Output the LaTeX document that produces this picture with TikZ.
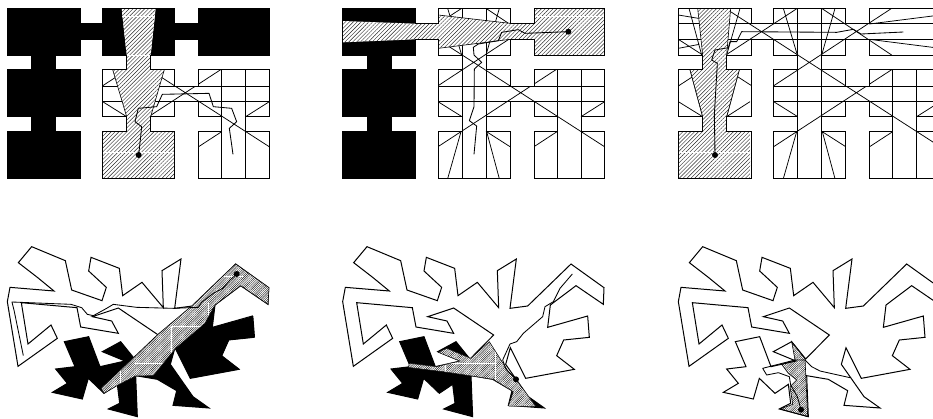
\documentclass[tikz,border=0pt]{standalone}
\usetikzlibrary{patterns.meta}
\tikzset{
  raw/.style={x=0.33333pt,y=-0.33333pt},
  wall/.style={line width=1pt,line join=miter,draw=black},
  inner/.style={line width=0.75pt,draw=black},
  track/.style={line width=0.85pt,line join=round,draw=black},
  dotmark/.style={fill=black,draw=none},
  solid black/.style={fill=black,draw=none},
  hatchT/.style={pattern={Lines[angle=45,distance=2.75pt,line width=0.42pt]},pattern color=black!85},
  hatchB/.style={pattern={Lines[angle=45,distance=1.55pt,line width=0.42pt]},pattern color=black!90},
  hatchedge/.style={line width=0.6pt,draw=black},
  seam/.style={line width=0.4pt,draw=white}
}
% ---------- top maze (raw = 3x pixel coordinates, panel-relative)
\def\mazeOutline{(22,25)--(240,25)--(240,70)--(308,70)--(308,25)--(524,25)--(524,70)--(596,70)--(596,25)--(808,25)--(808,165)--(596,165)--(596,118)--(524,118)--(524,165)--(452,165)--(452,209)--(524,209)--(524,258)--(596,258)--(596,209)--(808,209)--(808,350)--(737,350)--(737,394)--(808,394)--(808,536)--(596,536)--(596,394)--(665,394)--(665,350)--(596,350)--(596,305)--(524,305)--(524,350)--(452,350)--(452,394)--(524,394)--(524,536)--(308,536)--(308,394)--(380,394)--(380,350)--(308,350)--(308,209)--(380,209)--(380,165)--(308,165)--(308,118)--(240,118)--(240,165)--(167,165)--(167,209)--(240,209)--(240,350)--(167,350)--(167,394)--(240,394)--(240,536)--(22,536)--(22,394)--(95,394)--(95,350)--(22,350)--(22,209)--(95,209)--(95,165)--(22,165)--cycle}
\newcommand{\mazeLines}{%
  \begin{scope}
    \clip \mazeOutline;
    \draw[inner] (22,70)--(808,70) (22,118)--(808,118) (308,258)--(808,258) (308,305)--(808,305);
    \draw[inner] (380,25)--(380,536) (452,25)--(452,536) (665,209)--(665,536) (737,209)--(737,536);
    \draw[inner] (163,25)--(809,441) (662,209)--(308,440) (307,258)--(662,25) (379,25)--(22,258)
      (22,118)--(95,165) (167,209)--(240,256) (308,305)--(380,350) (452,394)--(524,440)
      (808,305)--(737,350) (665,395)--(596,440) (452,25)--(662,165) (22,305)--(95,350) (237,305)--(167,350);
    \draw[inner] (57,209)--(95,350) (205,209)--(167,350) (54,25)--(92,165) (207,25)--(167,165)
      (337,25)--(379,165) (492,25)--(452,165) (377,395)--(337,536) (454,395)--(492,536)
      (595,72)--(808,45) (595,118)--(808,145) (22,45)--(82,55) (22,145)--(85,133);
  \end{scope}}
% ---------- lower polygon (raw coordinates read on the third panel)
\def\bigOutline{(128,65)--(229,107)--(248,195)--(339,227)--(352,187)--(299,138)--(306,97)--(391,130)--(401,212)--(459,172)--(523,248)--(519,137)--(576,102)--(557,250)--(610,243)--(740,117)--(839,188)--(837,238)--(755,182)--(678,240)--(670,307)--(790,273)--(795,337)--(718,345)--(697,392)--(750,433)--(604,460)--(558,368)--(544,418)--(612,515)--(660,549)--(552,541)--(563,497)--(505,463)--(440,452)--(445,575)--(358,552)--(392,535)--(385,478)--(345,505)--(298,460)--(280,522)--(190,502)--(235,475)--(200,432)--(258,425)--(226,350)--(299,335)--(333,425)--(408,408)--(340,380)--(395,350)--(437,402)--(508,330)--(388,249)--(310,275)--(368,288)--(388,325)--(275,306)--(264,248)--(97,233)--(117,357)--(186,300)--(205,340)--(87,424)--(55,230)--(63,187)--(195,198)--(145,157)--(88,113)--cycle}
\begin{document}
\begin{tikzpicture}
\useasboundingbox (0,0) rectangle (933pt,-418pt);
\clip (0,0) rectangle (933pt,-418pt);
\fill[white] (0,0) rectangle (933pt,-418pt);

% ===== top panel 1
\begin{scope}[raw]
  \mazeLines
  \fill[solid black] (22,25)--(240,25)--(240,70)--(308,70)--(308,25)--(365,25)--(380,165)--(308,165)--(308,118)--(240,118)--(240,165)--(167,165)--(167,209)--(240,209)--(240,350)--(167,350)--(167,394)--(240,394)--(240,536)--(22,536)--(22,394)--(95,394)--(95,350)--(22,350)--(22,209)--(95,209)--(95,165)--(22,165)--cycle;
  \fill[solid black] (467,25)--(524,25)--(524,70)--(596,70)--(596,25)--(808,25)--(808,165)--(596,165)--(596,118)--(524,118)--(524,165)--(452,165)--cycle;
  \def\fone{(365,25)--(467,25)--(452,165)--(452,209)--(493,209)--(452,350)--(452,394)--(524,394)--(524,536)--(308,536)--(308,394)--(380,394)--(380,350)--(338,209)--(380,209)--(380,165)--cycle}
  \fill[white] \fone;
  \fill[hatchT] \fone;
  \draw[seam] (366,50)--(466,50) (380,165)--(452,165) (310,458)--(522,458);
  \draw[hatchedge] (338,209)--(380,350) (493,209)--(452,350);
  \draw[wall] \mazeOutline;
  \draw[track] (416,465)--(422,410)--(425,380)--(405,365)--(415,325)--(470,320)--(487,283)--(627,280)--(640,320)--(695,325)--(710,365)--(688,385)--(699,463);
  \fill[dotmark] (416,465) circle (3pt);
\end{scope}

% ===== top panel 2
\begin{scope}[raw,xshift=335.33pt]
  \mazeLines
  \fill[solid black] (22,25)--(240,25)--(240,165)--(167,165)--(167,209)--(240,209)--(240,350)--(167,350)--(167,394)--(240,394)--(240,536)--(22,536)--(22,394)--(95,394)--(95,350)--(22,350)--(22,209)--(95,209)--(95,165)--(22,165)--cycle;
  \def\ftwo{(22,63)--(240,71)--(308,71)--(309,45)--(524,70)--(596,70)--(596,25)--(808,25)--(808,165)--(596,165)--(596,118)--(524,118)--(309,145)--(308,118)--(240,118)--(22,127)--cycle}
  \fill[white] \ftwo;
  \fill[hatchT] \ftwo;
  \draw[seam] (596,50)--(808,50);
  \draw[hatchedge] (309,45)--(524,70) (309,145)--(524,118);
  \draw[wall] \mazeOutline;
\end{scope}
\begin{scope}[raw,xshift=330pt]
  \draw[track] (715,95)--(585,100)--(565,89)--(515,97)--(505,122)--(445,132)--(430,142)--(432,165)--(455,187)--(433,207)--(432,320)--(418,362)--(440,378)--(432,463);
  \fill[dotmark] (715,95) circle (3pt);
\end{scope}

% ===== top panel 3
\begin{scope}[raw,xshift=671pt]
  \mazeLines
  \def\fthree{(80,25)--(179,25)--(167,165)--(167,209)--(205,209)--(167,350)--(167,394)--(237,394)--(237,536)--(22,536)--(22,394)--(95,394)--(95,350)--(57,209)--(95,209)--(95,165)--cycle}
  \fill[white] \fthree;
  \fill[hatchT] \fthree;
  \draw[seam] (24,458)--(235,458);
  \draw[hatchedge] (80,25)--(95,165) (179,25)--(167,165) (57,209)--(95,350) (205,209)--(167,350);
  \draw[wall] \mazeOutline;
\end{scope}
\begin{scope}[raw,xshift=660pt]
  \draw[track] (165,465)--(163,345)--(172,190)--(155,180)--(165,150)--(205,143)--(210,125)--(230,125)--(245,95)--(530,97)--(580,88)--(603,102)--(730,96);
  \fill[dotmark] (165,465) circle (3pt);
\end{scope}

% ===== bottom panel 1
\begin{scope}[raw,yshift=-225pt,xshift=-11pt]
  \draw[wall] \bigOutline;
\end{scope}
\begin{scope}[raw,yshift=-225pt]
  \fill[solid black] (645,240)--(637,307)--(760,273)--(765,337)--(688,345)--(667,392)--(720,433)--(571,460)--(525,368)--(511,418)--(579,515)--(627,549)--(519,541)--(530,497)--(472,463)--(407,452)--(412,575)--(325,552)--(359,535)--(352,478)--(312,505)--(265,460)--(247,522)--(157,502)--(202,475)--(167,432)--(225,425)--(193,350)--(266,335)--(300,425)--(375,408)--(307,380)--(362,350)--(404,402)--cycle;
  \def\fbone{(707,117)--(807,188)--(804,238)--(722,182)--(645,240)--(615,295)--(527,370)--(460,452)--(407,453)--(358,478)--(312,505)--(303,490)--(475,327)--(575,243)--cycle}
  \fill[white] \fbone;
  \fill[hatchB] \fbone;
  \begin{scope}
    \clip \fbone;
    \draw[seam] (670,155)--(730,155) (515,305)--(625,305) (405,415)--(490,415) (513,305)--(513,415) (625,230)--(625,270) (360,415)--(360,480);
  \end{scope}
  \draw[hatchedge] \fbone;
  \draw[track] (710,147)--(690,165)--(668,190)--(640,205)--(605,232)--(595,247)--(520,250)--(410,247)--(340,238)--(320,250)--(280,272)--(262,268)--(245,248)--(213,238)--(36,231)--(42,255)--(70,392);
  \fill[dotmark] (710,147) circle (3pt);
\end{scope}

% ===== bottom panel 2
\begin{scope}[raw,yshift=-225pt,xshift=324.33pt]
  \draw[wall] \bigOutline;
\end{scope}
\begin{scope}[raw,yshift=-225pt,xshift=330pt]
  \fill[solid black] (595,515)--(643,549)--(535,541)--(546,497)--(488,463)--(423,452)--(428,575)--(341,552)--(375,535)--(368,478)--(328,505)--(281,460)--(263,522)--(173,502)--(218,475)--(183,432)--(241,425)--(209,350)--(282,335)--(316,425)--(391,408)--(323,380)--(378,350)--(420,402)--(478,350)--(535,440)--(558,463)--cycle;
  \def\fbtwo{(238,415)--(320,425)--(390,408)--(325,382)--(350,370)--(422,400)--(478,350)--(535,440)--(558,463)--(618,545)--(535,543)--(550,500)--(490,463)--(420,452)--(340,440)--(235,427)--cycle}
  \fill[white] \fbtwo;
  \fill[hatchB] \fbtwo;
  \begin{scope}
    \clip \fbtwo;
    \draw[seam] (345,415)--(500,415) (345,415)--(345,445) (495,360)--(495,465);
  \end{scope}
  \draw[line width=0.45pt,draw=black] \fbtwo;
  \draw[track] (727,147)--(690,190)--(670,230)--(645,245)--(638,275)--(580,325)--(560,350)--(540,357)--(518,405)--(528,433)--(558,463);
  \fill[dotmark] (558,463) circle (3pt);
\end{scope}

% ===== bottom panel 3
\begin{scope}[raw,yshift=-225pt,xshift=660pt]
  \def\fbthree{(395,350)--(435,400)--(443,575)--(360,552)--(398,538)--(390,485)--(410,465)--(385,445)--(365,418)--(405,405)--cycle}
  \fill[white] \fbthree;
  \fill[hatchB] \fbthree;
  \draw[wall] \bigOutline;
  \draw[hatchedge] \fbthree;
  \draw[track] (423,554)--(412,515)--(392,480)--(388,455)--(355,443)--(320,450)--(308,430)--(405,405)--(435,405)--(455,425)--(480,438)--(570,458);
  \fill[dotmark] (423,554) circle (3pt);
\end{scope}
\end{tikzpicture}
\end{document}
